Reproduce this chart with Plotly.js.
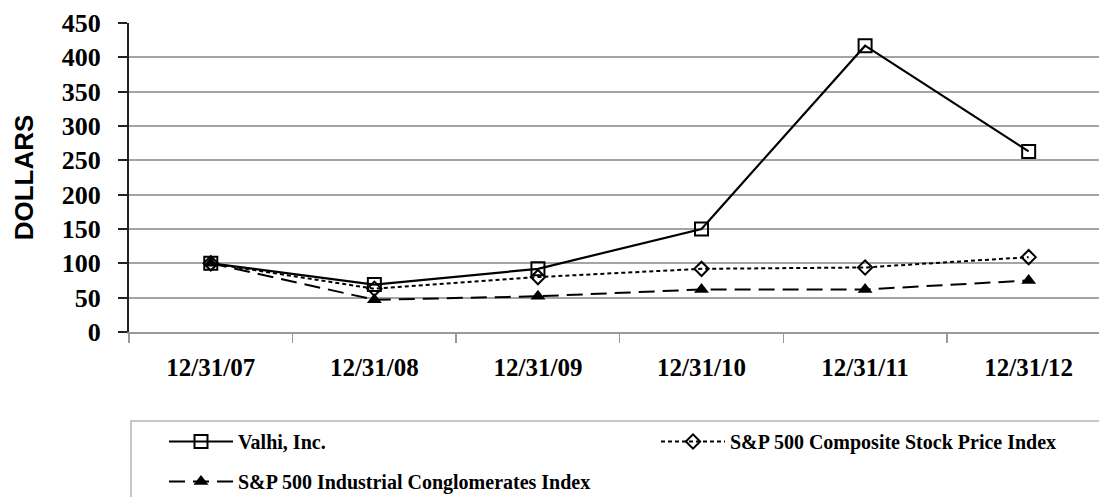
<!DOCTYPE html>
<html>
<head>
<meta charset="utf-8">
<script src="https://cdn.plot.ly/plotly-3.0.1.min.js"></script>
<style>html,body{margin:0;padding:0;background:#fff;overflow:hidden;}#chart{width:1099px;height:497px;}</style>
</head>
<body>
<div id="chart"></div>
<script>
const categories = ["12/31/07", "12/31/08", "12/31/09", "12/31/10", "12/31/11", "12/31/12"];
const valhi = [100, 69, 92, 150, 417, 263];
const sp500Composite = [100, 63, 80, 92, 94, 109];
const sp500Industrial = [100, 47, 52, 62, 62, 75];
const seriesNames = ["Valhi, Inc.", "S&P 500 Composite Stock Price Index", "S&P 500 Industrial Conglomerates Index"];
const yTicks = [0, 50, 100, 150, 200, 250, 300, 350, 400, 450];

const px = v => (v - 129) / 970;   // page x -> paper x
const py = v => (332 - v) / 309;   // page y -> paper y

const traces = [
  {
    x: categories, y: valhi, name: seriesNames[0], type: "scatter", mode: "lines+markers",
    legend: "legend", legendgroup: "a",
    line: {color: "#000", width: 2.2, dash: "solid"},
    marker: {symbol: "square-open", size: 13, color: "#000", line: {width: 2, color: "#000"}}
  },
  {
    x: categories, y: sp500Composite, name: seriesNames[1], type: "scatter", mode: "lines+markers",
    legend: "legend2", legendgroup: "b",
    line: {color: "#000", width: 2, dash: "4px,3px"},
    marker: {symbol: "diamond-open", size: 11, color: "#000", line: {width: 2, color: "#000"}}
  },
  {
    x: categories, y: sp500Industrial, name: seriesNames[2], type: "scatter", mode: "lines+markers",
    legend: "legend", legendgroup: "c",
    line: {color: "#000", width: 2, dash: "16px,8px"},
    marker: {symbol: "triangle-up", size: 13, color: "#000"}
  }
];

const legendFont = {family: "Liberation Serif, Times New Roman, serif", size: 20, color: "#000", weight: "bold"};

const layout = {
  width: 1099, height: 497,
  margin: {l: 129, r: 0, t: 23, b: 165, autoexpand: false},
  paper_bgcolor: "#fff", plot_bgcolor: "#fff",
  showlegend: true,
  font: {family: "Liberation Serif, Times New Roman, serif", color: "#000"},
  xaxis: {
    type: "category",
    range: [-0.5, 5.43],
    tickson: "boundaries",
    ticks: "outside", ticklen: 9, tickwidth: 1.5, tickcolor: "#9a9a9a",
    showline: true, linecolor: "#9a9a9a", linewidth: 2,
    showgrid: false, zeroline: false,
    ticklabelstandoff: 12,
    tickfont: {family: "Liberation Serif, Times New Roman, serif", size: 25, color: "#000", weight: "bold"}
  },
  yaxis: {
    range: [0, 450],
    tickvals: yTicks,
    ticktext: yTicks.map(String),
    ticks: "outside", ticklen: 9, tickwidth: 2, tickcolor: "#222",
    showline: true, linecolor: "#222", linewidth: 2,
    showgrid: true, gridcolor: "#a4a4a4", gridwidth: 2,
    zeroline: false,
    ticklabelstandoff: 12,
    tickfont: {family: "Liberation Serif, Times New Roman, serif", size: 26, color: "#000", weight: "bold"},
    title: {text: "DOLLARS", standoff: 21, font: {family: "Liberation Sans, Arial, sans-serif", size: 26, color: "#000", weight: "bold"}}
  },
  legend: {
    orientation: "v",
    x: px(164), xanchor: "left",
    y: py(422), yanchor: "top",
    xref: "paper", yref: "paper",
    itemwidth: 64,
    bgcolor: "rgba(0,0,0,0)", borderwidth: 0,
    font: legendFont,
    tracegroupgap: 11,
    itemclick: false
  },
  legend2: {
    orientation: "v",
    x: px(656), xanchor: "left",
    y: py(422), yanchor: "top",
    xref: "paper", yref: "paper",
    itemwidth: 64,
    bgcolor: "rgba(0,0,0,0)", borderwidth: 0,
    font: legendFont,
    itemclick: false
  },
  shapes: [{
    type: "rect", xref: "paper", yref: "paper",
    x0: px(131), x1: px(1115),
    y0: py(421), y1: py(520),
    line: {color: "#b5b5b5", width: 1.5}, fillcolor: "rgba(0,0,0,0)", layer: "below"
  }]
};

Plotly.newPlot("chart", traces, layout, {displayModeBar: false, staticPlot: true});
</script>
</body>
</html>
